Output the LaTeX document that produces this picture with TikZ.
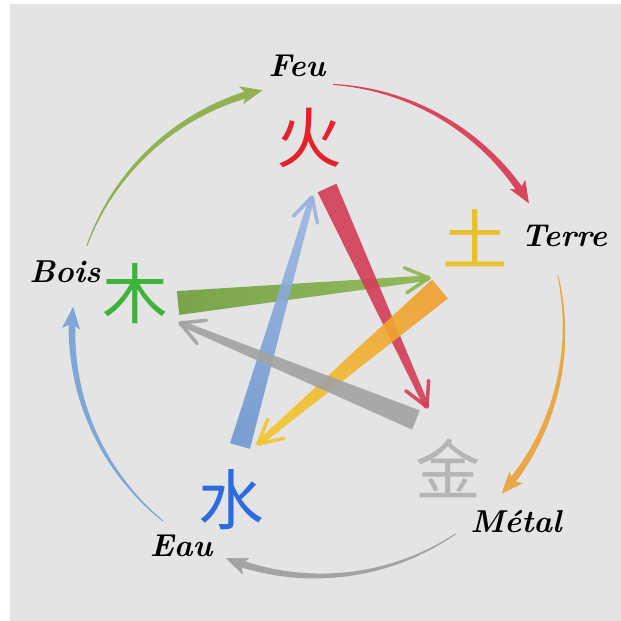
\documentclass[tikz,border=0pt]{standalone}
\usepackage{fontspec}
\newfontfamily\cjk{Noto Sans CJK SC}
\usetikzlibrary{arrows.meta,calc}

\definecolor{bg}{HTML}{E4E4E4}
\definecolor{arcwood}{HTML}{93B052}
\definecolor{arcfire}{HTML}{D9475F}
\definecolor{arcearth}{HTML}{E9A848}
\definecolor{arcmetal}{HTML}{A3A3A3}
\definecolor{arcwater}{HTML}{7EA6D6}
\definecolor{hzwood}{HTML}{3DB33A}
\definecolor{hzfire}{HTML}{E5222B}
\definecolor{hzearth}{HTML}{E9C12A}
\definecolor{hzmetal}{HTML}{B5B5B5}
\definecolor{hzwater}{HTML}{2E6BDE}
\definecolor{stwood}{HTML}{6E9E3C}
\definecolor{stwoodhead}{HTML}{8CB650}
\definecolor{stfire}{HTML}{D43C58}
\definecolor{stearthtail}{HTML}{F0A030}
\definecolor{stearthhead}{HTML}{F1C52E}
\definecolor{stwatertail}{HTML}{6F98D0}
\definecolor{stwaterhead}{HTML}{98B2DF}
\definecolor{stmetal}{HTML}{A2A2A2}

\begin{document}
\begin{tikzpicture}[x=0.03cm, y=0.03cm, >=Stealth,
    elem/.style={font=\fontsize{27}{32}\selectfont\bfseries\itshape, inner sep=0pt},
    hanzi/.style={font=\cjk\fontsize{56}{62}\selectfont, inner sep=0pt},
    head/.style={line width=0.6pt, -{Stealth[length=6.6mm, width=5.4mm, inset=1.6mm]}},
    barb/.style={line width=3pt, line cap=round, line join=round, opacity=0.9},
    starwood/.style={left color=stwood, right color=stwoodhead, opacity=0.9},
    starfire/.style={fill=stfire, opacity=0.9},
    starearth/.style={top color=stearthtail, bottom color=stearthhead, shading angle=-50, opacity=0.9},
    starwater/.style={top color=stwaterhead, bottom color=stwatertail, shading angle=-16, opacity=0.9},
    starmetal/.style={fill=stmetal, opacity=0.9}]
  \useasboundingbox (0,0) rectangle (621,621);
  \fill[bg] (10,0) rectangle (621,617);
  \coordinate (ctr) at (318,291);

  % element names and characters
  \node[elem] (feu)   at (297,555) {Feu};
  \node[elem] (terre) at (564,385) {Terre};
  \node[elem] (metal) at (516,99)  {Métal};
  \node[elem] (eau)   at (181,75)  {Eau};
  \node[elem] (bois)  at (65,349)  {Bois};
  \node[hanzi, text=hzfire]  (huo)  at (309,483) {火};
  \node[hanzi, text=hzearth] (tu)   at (475,383) {土};
  \node[hanzi, text=hzmetal] (jin)  at (448,153) {金};
  \node[hanzi, text=hzwater] (shui) at (231,121) {水};
  \node[hanzi, text=hzwood]  (mu)   at (135,327) {木};

  % outer cycle
  \begin{scope}[shift={(ctr)}]
    \foreach \s/\e/\c in {160/103/arcwood, 86.5/31/arcfire, 13/-41.7/arcearth, -56/-112/arcmetal, 231/174.6/arcwater}{
      \fill[\c] plot[domain=0:1, samples=30] ({\s+(\e+3-\s)*\x}:{246.5+3*\x})
        -- plot[domain=1:0, samples=30] ({\s+(\e+3-\s)*\x}:{245.5-3*\x}) -- cycle;
      \draw[head, \c] (\e+7:246) arc[start angle=\e+7, end angle=\e, radius=246];
    }
  \end{scope}

  % inner star
  \coordinate (woodT)  at (178,318);
  \coordinate (woodH)  at (429,343);
  \coordinate (fireT)  at (327,433);
  \coordinate (fireH)  at (427,214);
  \coordinate (earthT) at (440,332);
  \coordinate (earthH) at (258,177);
  \coordinate (waterT) at (240,175);
  \coordinate (waterH) at (312,424);
  \coordinate (metalT) at (416,201);
  \coordinate (metalH) at (180,298);
  \foreach \t/\h/\w/\st/\bc in {woodT/woodH/3.6mm/starwood/stwoodhead,
      fireT/fireH/3.1mm/starfire/stfire, earthT/earthH/3.7mm/starearth/stearthhead,
      waterT/waterH/3.1mm/starwater/stwaterhead, metalT/metalH/3.1mm/starmetal/stmetal}{
    \path[\st] ($(\t)!\w!90:(\h)$) -- ($(\h)!0.8mm!-90:(\t)$)
      -- ($(\h)!0.8mm!90:(\t)$) -- ($(\t)!\w!-90:(\h)$) -- cycle;
    \draw[barb, \bc] ($(\h)!8mm!28:(\t)$) -- (\h) -- ($(\h)!8mm!-28:(\t)$);
  }
\end{tikzpicture}
\end{document}
